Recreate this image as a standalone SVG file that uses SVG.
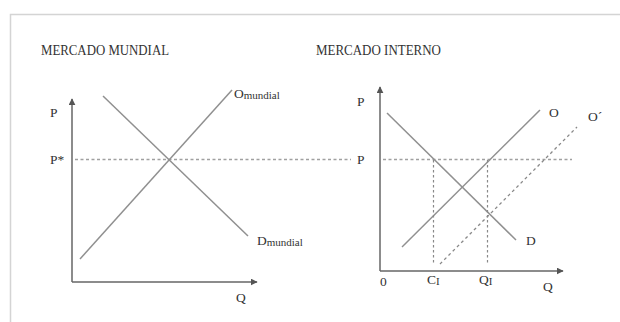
<svg xmlns="http://www.w3.org/2000/svg" width="620" height="322" viewBox="0 0 620 322">
<defs>
<marker id="arr" viewBox="0 0 10 10" refX="9" refY="5" markerWidth="7" markerHeight="7" orient="auto" markerUnits="userSpaceOnUse">
<path d="M0,0 L10,5 L0,10 z" fill="#555"/>
</marker>
</defs>
<style>
text,tspan{font-family:"Liberation Serif","Times New Roman",serif;fill:#333;}
.t{font-size:15px;}
.l{font-size:13.5px;}
.s{font-size:11px;}
.ax{stroke:#666;stroke-width:1.5;fill:none;}
.cv{stroke:#909090;stroke-width:1.5;fill:none;}
.dl{stroke:#a0a0a0;stroke-width:1.3;stroke-dasharray:3,2.5;fill:none;}
.dv{stroke:#888;stroke-width:1.2;stroke-dasharray:2.5,2.5;fill:none;}
.dc{stroke:#888;stroke-width:1.3;stroke-dasharray:3,3;fill:none;}
</style>
<rect x="0" y="0" width="620" height="322" fill="#fff"/>
<rect x="10.5" y="14.5" width="640" height="340" fill="none" stroke="#d4d4d4" stroke-width="1.5"/>
<g id="titles">
<text class="t" x="41" y="55" textLength="128" lengthAdjust="spacingAndGlyphs">MERCADO MUNDIAL</text>
<text class="t" x="316" y="55" textLength="125" lengthAdjust="spacingAndGlyphs">MERCADO INTERNO</text>
</g>
<g id="connectors">
<path class="ax" d="M72,282 V99" marker-end="url(#arr)"/>
<path class="ax" d="M72,282 H257" marker-end="url(#arr)"/>
<path class="ax" d="M380,271 V87" marker-end="url(#arr)"/>
<path class="ax" d="M380,271 H563" marker-end="url(#arr)"/>
<path class="dl" d="M75,159.5 H351"/>
<path class="dl" d="M383,159.5 H572"/>
<path class="cv" d="M80,259 L232,90"/>
<path class="cv" d="M103,96 L248,236"/>
<path class="cv" d="M387,113 L516,240"/>
<path class="cv" d="M402,247 L540,110"/>
<path class="dc" d="M440,264 L577,127"/>
<path class="dv" d="M433.5,160 V264"/>
<path class="dv" d="M487.5,160 V264"/>
</g>
<g id="left-labels">
<text class="l" x="50" y="117">P</text>
<text class="l" x="50" y="164">P*</text>
<text class="l" x="236" y="302">Q</text>
<text x="234" y="98"><tspan class="l">O</tspan><tspan class="s" dy="1">mundial</tspan></text>
<text x="257" y="245"><tspan class="l">D</tspan><tspan class="s" dy="1">mundial</tspan></text>
</g>
<g id="right-labels">
<text class="l" x="357" y="106">P</text>
<text class="l" x="357" y="164">P</text>
<text class="l" x="380" y="286">0</text>
<text class="l" x="543" y="291">Q</text>
<text class="l" x="526" y="245">D</text>
<text class="l" x="549" y="117">O</text>
<text class="l" x="588" y="121">O´</text>
<text x="427" y="284"><tspan class="l">C</tspan><tspan class="s" dy="1">I</tspan></text>
<text x="479" y="284"><tspan class="l">Q</tspan><tspan class="s" dy="1">I</tspan></text>
</g>
</svg>
